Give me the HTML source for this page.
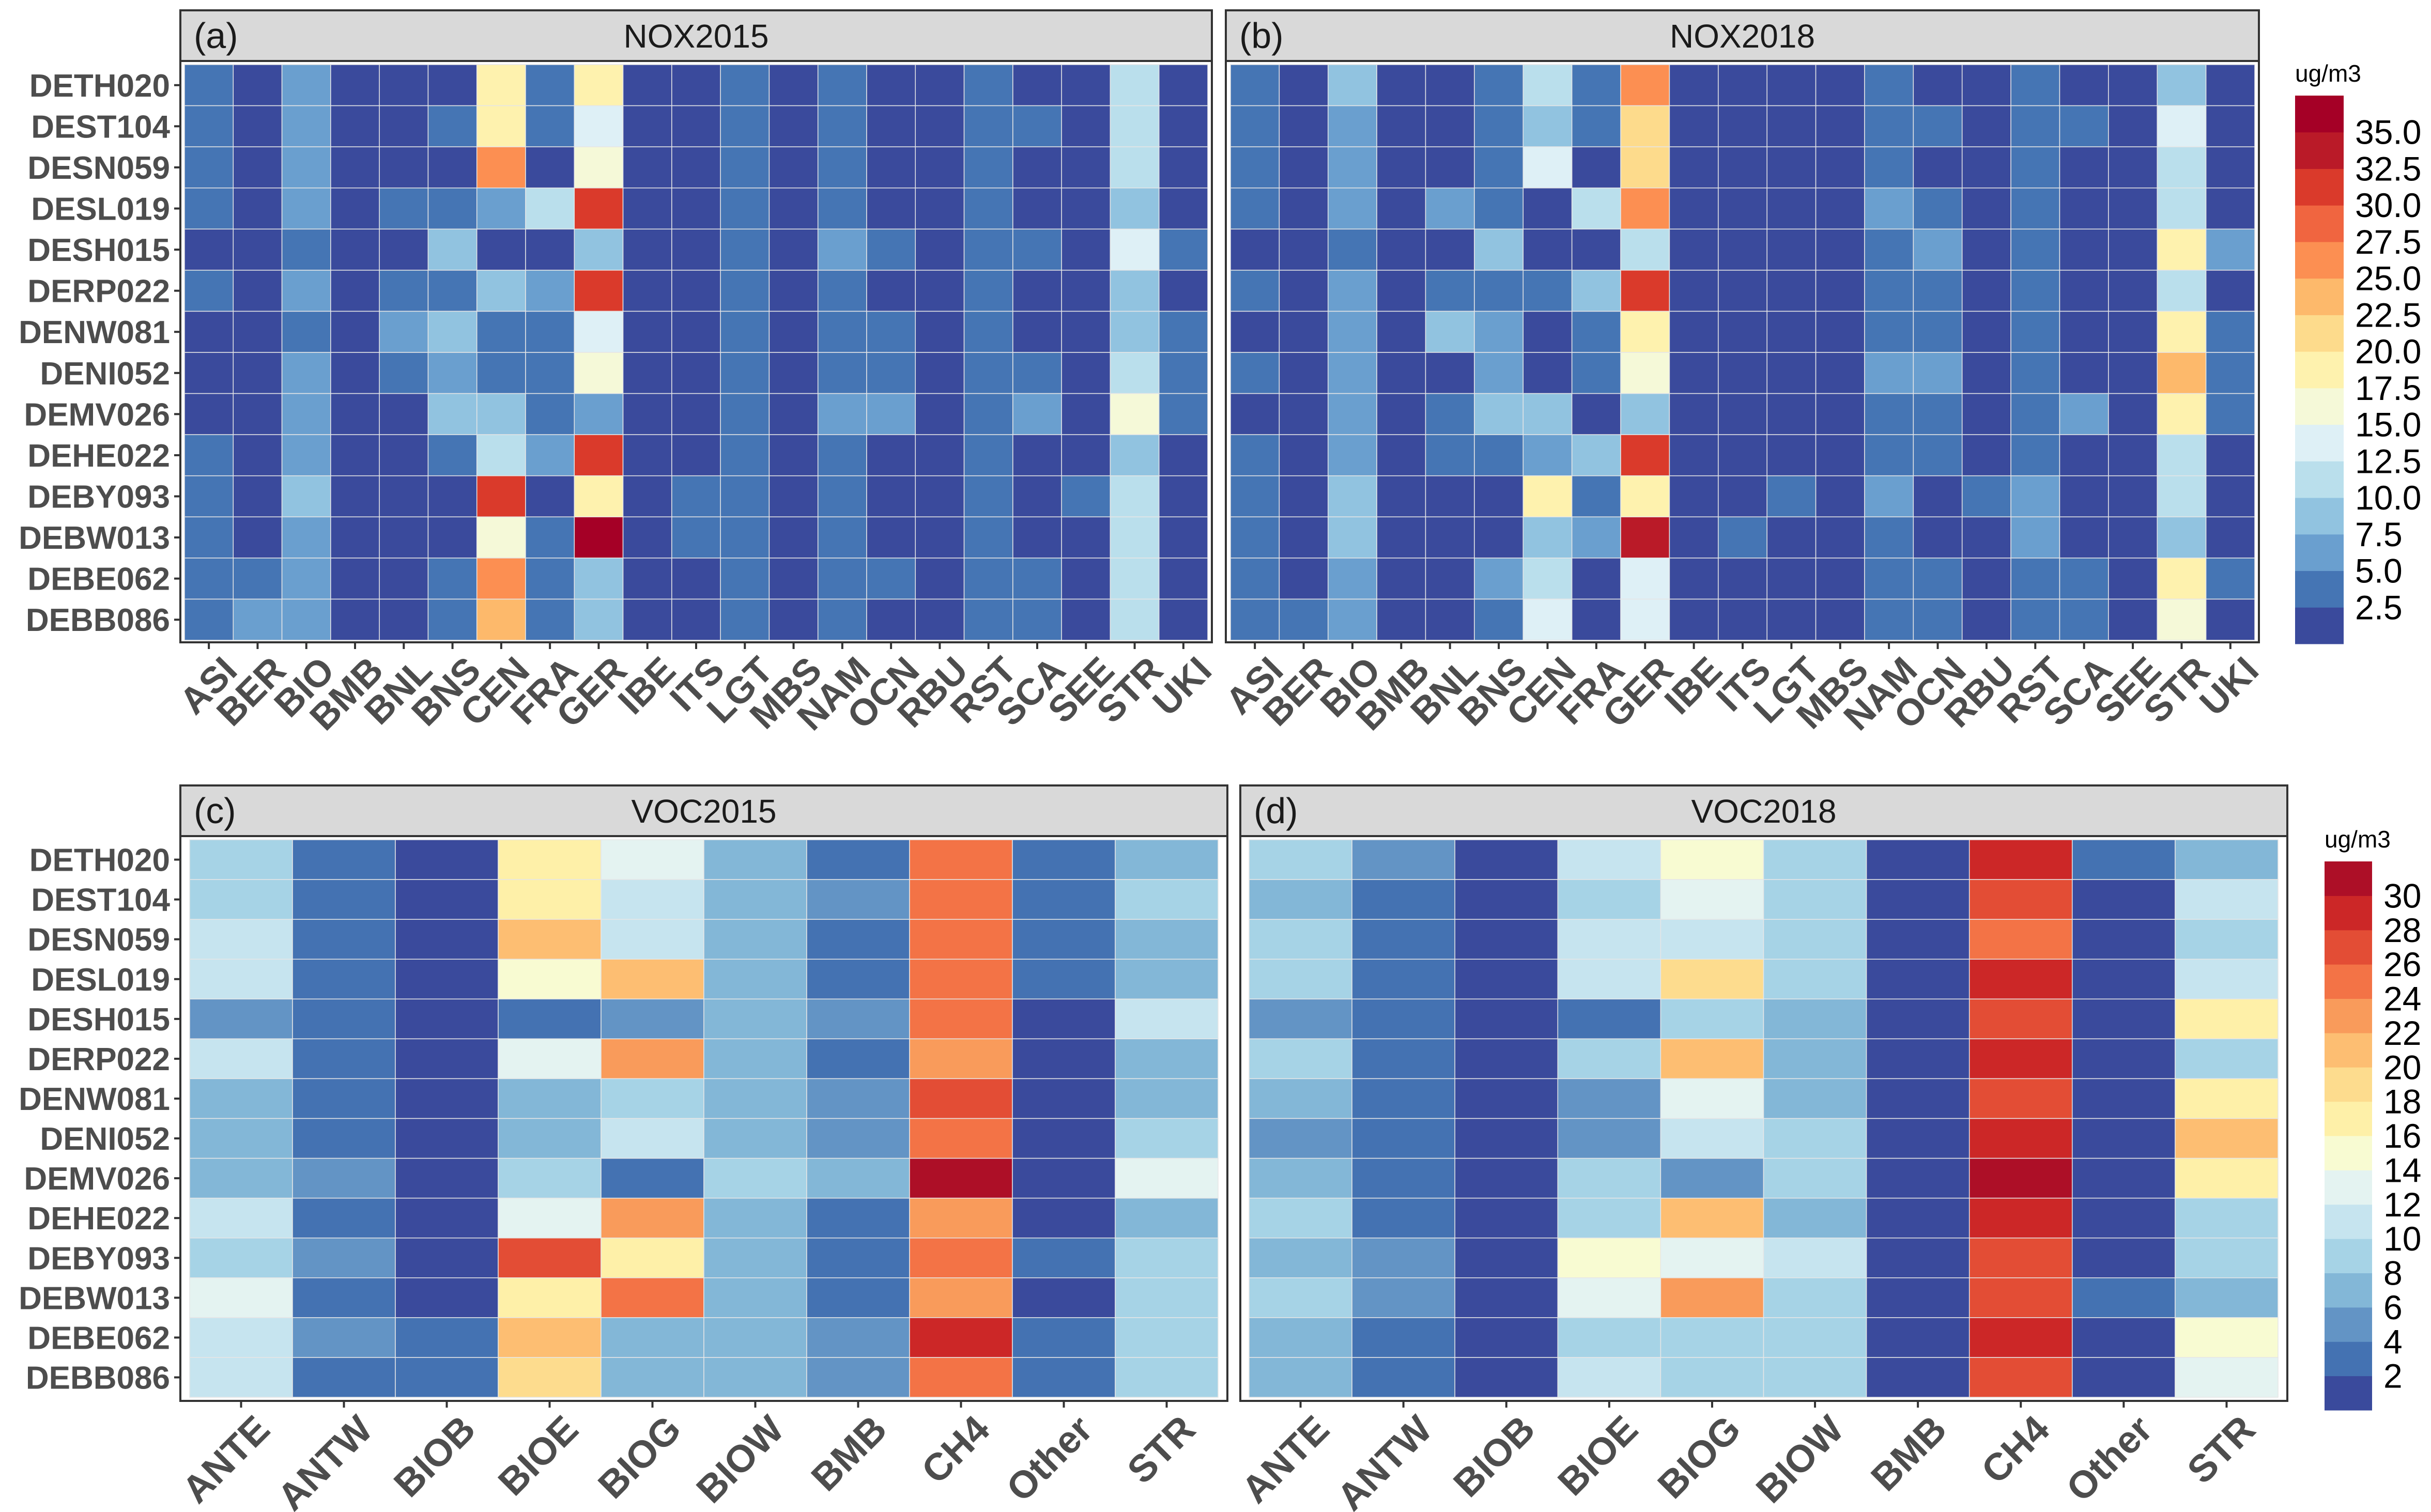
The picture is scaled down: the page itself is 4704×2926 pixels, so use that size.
<!DOCTYPE html>
<html><head><meta charset="utf-8">
<style>
html,body{margin:0;padding:0;background:#fff;}
svg{display:block;font-family:"Liberation Sans",sans-serif;}
</style></head>
<body>
<svg id="chart" xmlns="http://www.w3.org/2000/svg" width="4704" height="2926" viewBox="0 0 4704 2926"></svg>
<script>
const stations = ["DETH020","DEST104","DESN059","DESL019","DESH015","DERP022","DENW081","DENI052","DEMV026","DEHE022","DEBY093","DEBW013","DEBE062","DEBB086"];
const noxSources = ["ASI","BER","BIO","BMB","BNL","BNS","CEN","FRA","GER","IBE","ITS","LGT","MBS","NAM","OCN","RBU","RST","SCA","SEE","STR","UKI"];
const vocSources = ["ANTE","ANTW","BIOB","BIOE","BIOG","BIOW","BMB","CH4","Other","STR"];
const nox2015 = [
[4,1.5,6.5,1.5,1.5,1.5,19,4,19,1.5,1.5,4,1.5,4,1.5,1.5,4,1.5,1.5,11.5,1.5],
[4,1.5,6.5,1.5,1.5,4,19,4,14,1.5,1.5,4,1.5,4,1.5,1.5,4,4,1.5,11.5,1.5],
[4,1.5,6.5,1.5,1.5,1.5,26.5,1.5,16.5,1.5,1.5,4,1.5,4,1.5,1.5,4,1.5,1.5,11.5,1.5],
[4,1.5,6.5,1.5,4,4,6.5,11.5,31.5,1.5,1.5,4,1.5,4,1.5,1.5,4,1.5,1.5,9,1.5],
[1.5,1.5,4,1.5,1.5,9,1.5,1.5,9,1.5,1.5,4,1.5,6.5,4,1.5,4,4,1.5,14,4],
[4,1.5,6.5,1.5,4,4,9,6.5,31.5,1.5,1.5,4,1.5,4,1.5,1.5,4,1.5,1.5,9,1.5],
[1.5,1.5,4,1.5,6.5,9,4,4,14,1.5,1.5,4,1.5,4,4,1.5,4,1.5,1.5,9,4],
[1.5,1.5,6.5,1.5,4,6.5,4,4,16.5,1.5,1.5,4,1.5,4,4,1.5,4,4,1.5,11.5,4],
[1.5,1.5,6.5,1.5,1.5,9,9,4,6.5,1.5,1.5,4,1.5,6.5,6.5,1.5,4,6.5,1.5,16.5,4],
[4,1.5,6.5,1.5,1.5,4,11.5,6.5,31.5,1.5,1.5,4,1.5,4,1.5,1.5,4,1.5,1.5,9,1.5],
[4,1.5,9,1.5,1.5,1.5,31.5,1.5,19,1.5,4,4,1.5,4,1.5,1.5,4,1.5,4,11.5,1.5],
[4,1.5,6.5,1.5,1.5,1.5,16.5,4,36.5,1.5,4,4,1.5,4,1.5,1.5,4,1.5,1.5,11.5,1.5],
[4,4,6.5,1.5,1.5,4,26.5,4,9,1.5,1.5,4,1.5,4,4,1.5,4,4,1.5,11.5,1.5],
[4,6.5,6.5,1.5,1.5,4,24,4,9,1.5,1.5,4,1.5,4,1.5,1.5,4,4,1.5,11.5,1.5]];
const nox2018 = [
[4,1.5,9,1.5,1.5,4,11.5,4,26.5,1.5,1.5,1.5,1.5,4,1.5,1.5,4,1.5,1.5,9,1.5],
[4,1.5,6.5,1.5,1.5,4,9,4,21.5,1.5,1.5,1.5,1.5,4,4,1.5,4,4,1.5,14,1.5],
[4,1.5,6.5,1.5,1.5,4,14,1.5,21.5,1.5,1.5,1.5,1.5,4,1.5,1.5,4,1.5,1.5,11.5,1.5],
[4,1.5,6.5,1.5,6.5,4,1.5,11.5,26.5,1.5,1.5,1.5,1.5,6.5,4,1.5,4,1.5,1.5,11.5,1.5],
[1.5,1.5,4,1.5,1.5,9,1.5,1.5,11.5,1.5,1.5,1.5,1.5,4,6.5,1.5,4,1.5,1.5,19,6.5],
[4,1.5,6.5,1.5,4,4,4,9,31.5,1.5,1.5,1.5,1.5,4,4,1.5,4,1.5,1.5,11.5,1.5],
[1.5,1.5,6.5,1.5,9,6.5,1.5,4,19,1.5,1.5,1.5,1.5,4,4,1.5,4,1.5,1.5,19,4],
[4,1.5,6.5,1.5,1.5,6.5,1.5,4,16.5,1.5,1.5,1.5,1.5,6.5,6.5,1.5,4,1.5,1.5,24,4],
[1.5,1.5,6.5,1.5,4,9,9,1.5,9,1.5,1.5,1.5,1.5,4,4,1.5,4,6.5,1.5,19,4],
[4,1.5,6.5,1.5,4,4,6.5,9,31.5,1.5,1.5,1.5,1.5,4,4,1.5,4,1.5,1.5,11.5,1.5],
[4,1.5,9,1.5,1.5,1.5,19,4,19,1.5,1.5,4,1.5,6.5,1.5,4,6.5,1.5,1.5,11.5,1.5],
[4,1.5,9,1.5,1.5,1.5,9,6.5,34,1.5,4,1.5,1.5,4,1.5,1.5,6.5,1.5,1.5,9,1.5],
[4,1.5,6.5,1.5,1.5,6.5,11.5,1.5,14,1.5,1.5,1.5,1.5,4,4,1.5,4,4,1.5,19,4],
[4,4,6.5,1.5,1.5,4,14,1.5,14,1.5,1.5,1.5,1.5,4,4,1.5,4,4,1.5,16.5,1.5]];
const voc2015 = [
[9,3,1,17,13,7,3,25,3,7],
[9,3,1,17,11,7,5,25,3,9],
[11,3,1,21,11,7,3,25,3,7],
[11,3,1,15,21,7,3,25,3,7],
[5,3,1,3,5,7,5,25,1,11],
[11,3,1,13,23,7,3,23,1,7],
[7,3,1,7,9,7,5,27,1,7],
[7,3,1,7,11,7,5,25,1,9],
[7,5,1,9,3,9,7,31,1,13],
[11,3,1,13,23,7,3,23,1,7],
[9,5,1,27,17,7,3,25,3,9],
[13,3,1,17,25,7,3,23,1,9],
[11,5,3,21,7,7,5,29,3,9],
[11,3,3,19,7,7,5,25,3,9]];
const voc2018 = [
[9,5,1,11,15,9,1,29,3,7],
[7,3,1,9,13,9,1,27,1,11],
[9,3,1,11,11,9,1,25,1,9],
[9,3,1,11,19,9,1,29,1,11],
[5,3,1,3,9,7,1,27,1,17],
[9,3,1,9,21,7,1,29,1,9],
[7,3,1,5,13,7,1,27,1,17],
[5,3,1,5,11,9,1,29,1,21],
[7,3,1,9,5,9,1,31,1,17],
[9,3,1,9,21,7,1,29,1,9],
[7,5,1,15,13,11,1,27,1,9],
[9,5,1,13,23,9,1,27,3,7],
[7,3,1,9,9,9,1,29,1,15],
[7,3,1,11,9,9,1,27,1,13]];
const noxTicks = ["2.5","5.0","7.5","10.0","12.5","15.0","17.5","20.0","22.5","25.0","27.5","30.0","32.5","35.0"];
const vocTicks = ["2","4","6","8","10","12","14","16","18","20","22","24","26","28","30"];
const noxColors = ["#3A4A9C","#4575B4","#6A9FCF","#91C3E0","#BADFEC","#DEF0F6","#F5F9D8","#FEF2AE","#FDDB8C","#FDB96B","#FC8F52","#F06540","#DA3A2B","#BA1A28","#A50026"];
const vocColors = ["#3A4A9C","#4472B2","#6394C5","#83B7D7","#A6D3E6","#C6E4EF","#E4F3F1","#F8FBD2","#FEF0A8","#FDDC8E","#FDBE72","#F99B5B","#F37346","#E34D35","#CC2727","#AD0F27"];

const NS="http://www.w3.org/2000/svg";
const svg=document.getElementById('chart');
function mk(tag,attrs,parent){const e=document.createElementNS(NS,tag);for(const k in attrs)e.setAttribute(k,attrs[k]);(parent||svg).appendChild(e);return e;}
function colorFor(v,step,colors){let i=Math.floor(v/step);if(i<0)i=0;if(i>colors.length-1)i=colors.length-1;return colors[i];}

function panel(p){
  const g=mk('g',{});
  
  
  const strip=mk('rect',{x:p.fx,y:p.sy,width:p.fw,height:p.fy-p.sy,fill:'#D9D9D9',stroke:'#333',"stroke-width":4},g);
  
  
  const lab=mk('text',{x:p.fx+26,y:p.sy+(p.fy-p.sy)/2+24,"font-size":70,fill:'#1A1A1A'},g);
  lab.textContent=p.letter;
  
  
  const tt=mk('text',{x:p.fx+p.fw/2,y:p.sy+(p.fy-p.sy)/2+23,"font-size":64,fill:'#1A1A1A',"text-anchor":'middle'},g);
  tt.textContent=p.title;
  
  
  const fr=mk('rect',{x:p.fx,y:p.fy,width:p.fw,height:p.fh,fill:'#fff',stroke:'none'},g);
  
  
  const nc=p.cols.length, nr=stations.length;
  const cw=(p.cx1-p.cx0)/nc, rh=(p.cy1-p.cy0)/nr;
  const xs=j=>p.cx0+j*cw, ys=i=>p.cy0+i*rh;
  for(let i=0;i<nr;i++){for(let j=0;j<nc;j++){
    const c=mk('rect',{x:xs(j),y:ys(i),width:cw,height:rh,fill:colorFor(p.data[i][j],p.step,p.colors),stroke:'#E6E6E6',"stroke-width":1.5},g);
    
    
  }}
  const border=mk('rect',{x:p.fx,y:p.fy,width:p.fw,height:p.fh,fill:'none',stroke:'#333',"stroke-width":4},g);
  
  
  if(p.ylabels){for(let i=0;i<nr;i++){
    const cy=ys(i)+rh/2;
    mk('line',{x1:p.fx-12,x2:p.fx,y1:cy,y2:cy,stroke:'#333',"stroke-width":4},g);
    const t=mk('text',{x:p.fx-20,y:cy+22,"font-size":62,"font-weight":'bold',fill:'#4D4D4D',"text-anchor":'end'},g);
    t.textContent=stations[i];
    
    
  }}
  const by=p.fy+p.fh;
  for(let j=0;j<nc;j++){
    const cx=xs(j)+cw/2;
    mk('line',{x1:cx,x2:cx,y1:by,y2:by+13,stroke:'#333',"stroke-width":4},g);
    const t=mk('text',{transform:`translate(${cx+22},${by+22}) rotate(-45)`,"font-size":p.xfs,"font-weight":'bold',fill:'#4D4D4D',"text-anchor":'end',dy:'0.72em'},g);
    t.textContent=p.cols[j];
    
    
  }
}

function legend(l){
  const g=mk('g',{});
  
  
  const t=mk('text',{x:l.x,y:l.ty,"font-size":46,fill:'#000'},g);
  t.textContent='ug/m3';
  
  
  const n=l.colors.length, bh=(l.y1-l.y0)/n;
  for(let k=0;k<n;k++){
    const r=mk('rect',{x:l.x,y:l.y1-(k+1)*bh,width:l.w,height:bh+0.5,fill:l.colors[k]},g);
    
    
  }
  for(let k=0;k<l.ticks.length;k++){
    const y=l.y1-(k+1)*bh;
    const tx=mk('text',{x:l.x+l.w+22,y:y+23,"font-size":l.fs,fill:'#000'},g);
    tx.textContent=l.ticks[k];
    
    
  }
}

panel({name:'panel-nox2015',letter:'(a)',title:'NOX2015',fx:349,fw:1996,sy:20,fy:118,fh:1125,cx0:357,cx1:2337,cy0:125,cy1:1239,cols:noxSources,data:nox2015,step:2.5,colors:noxColors,ylabels:true,xfs:72});
panel({name:'panel-nox2018',letter:'(b)',title:'NOX2018',fx:2372,fw:1999,sy:20,fy:118,fh:1125,cx0:2381,cx1:4363,cy0:125,cy1:1239,cols:noxSources,data:nox2018,step:2.5,colors:noxColors,ylabels:false,xfs:72});
panel({name:'panel-voc2015',letter:'(c)',title:'VOC2015',fx:349,fw:2026,sy:1520,fy:1618,fh:1093,cx0:367,cx1:2357,cy0:1625,cy1:2704,cols:vocSources,data:voc2015,step:2,colors:vocColors,ylabels:true,xfs:74});
panel({name:'panel-voc2018',letter:'(d)',title:'VOC2018',fx:2400,fw:2026,sy:1520,fy:1618,fh:1093,cx0:2417,cx1:4408,cy0:1625,cy1:2704,cols:vocSources,data:voc2018,step:2,colors:vocColors,ylabels:false,xfs:74});
legend({name:'legend-nox',x:4441,w:94,y0:185,y1:1246,ty:158,colors:noxColors,ticks:noxTicks,fs:66});
legend({name:'legend-voc',x:4498,w:92,y0:1667,y1:2729,ty:1640,colors:vocColors,ticks:vocTicks,fs:66});
</script>
</body></html>
